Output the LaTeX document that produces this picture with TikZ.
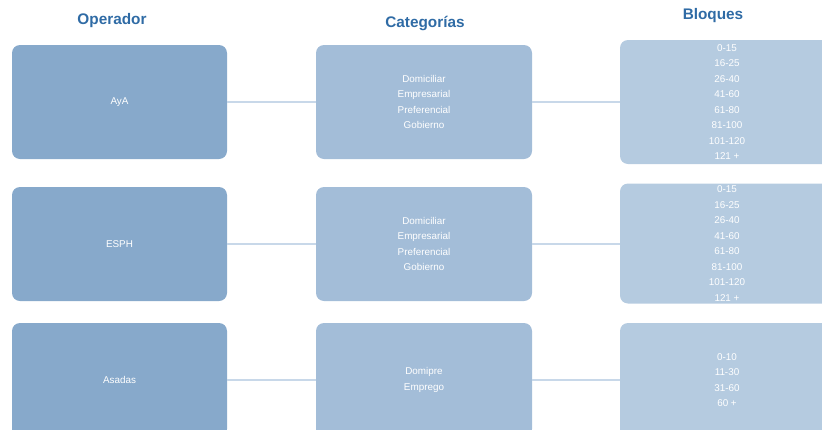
\documentclass[tikz,border=0pt]{standalone}
\usepackage{fontspec}
\setmainfont{Liberation Sans}
\definecolor{opfill}{HTML}{87A9CB}
\definecolor{catfill}{HTML}{A3BDD8}
\definecolor{blqfill}{HTML}{B5CBE0}
\definecolor{linkcol}{HTML}{C8D8E9}
\definecolor{titlecol}{HTML}{2F6BA5}
\tikzset{
  box/.style={rounded corners=6pt, minimum height=85.5pt, text=white, align=center, inner sep=0pt,
    font=\fontsize{7.4}{11.6}\selectfont},
  opbox/.style={box, fill=opfill, minimum width=161.25pt},
  catbox/.style={box, fill=catfill, minimum width=162pt},
  blqbox/.style={box, fill=blqfill, minimum width=160.5pt, minimum height=93pt},
  link/.style={draw=linkcol, line width=1.2pt},
  heading/.style={text=titlecol, font=\fontsize{11.5}{13}\selectfont\bfseries}
}
\begin{document}
\begin{tikzpicture}[x=0.75pt,y=-0.75pt]
\useasboundingbox (0,0) rectangle (822,429);
\clip (0,0) rectangle (822,429);
\node[heading] (h1) at (112,21) {Operador};
\node[heading] (h2) at (425,23) {Categorías};
\node[heading] (h3) at (713,16) {Bloques};

% row 1
\node[opbox] (op1) at (119.5,102) {AyA};
\node[catbox] (cat1) at (424,102) {Domiciliar\\Empresarial\\Preferencial\\Gobierno};
\node[blqbox] (blq1) at (727,102) {0-15\\16-25\\26-40\\41-60\\61-80\\81-100\\101-120\\121 +};
% row 2
\node[opbox] (op2) at (119.5,244) {ESPH};
\node[catbox] (cat2) at (424,244) {Domiciliar\\Empresarial\\Preferencial\\Gobierno};
\node[blqbox, minimum height=90pt] (blq2) at (727,243.5) {0-15\\16-25\\26-40\\41-60\\61-80\\81-100\\101-120\\121 +};
% row 3
\node[opbox] (op3) at (119.5,380) {Asadas};
\node[catbox] (cat3) at (424,380) {Domipre\\Emprego};
\node[blqbox, minimum height=85.5pt] (blq3) at (727,380) {0-10\\11-30\\31-60\\60 +};

\draw[link] (op1) -- (cat1);
\draw[link] (cat1) -- (blq1);
\draw[link] (op2) -- (cat2);
\draw[link] (cat2.east) -- (cat2.east -| blq2.west);
\draw[link] (op3) -- (cat3);
\draw[link] (cat3) -- (blq3);
\end{tikzpicture}
\end{document}
